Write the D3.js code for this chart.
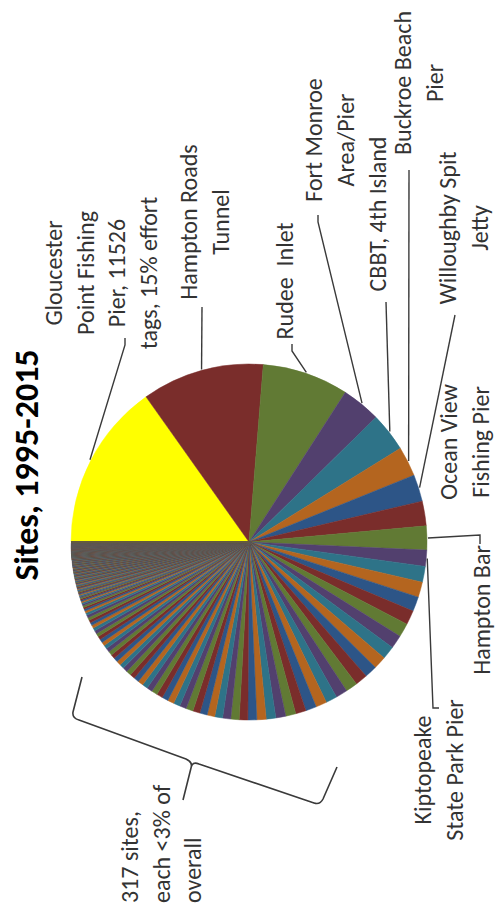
<!DOCTYPE html>
<html><head><meta charset="utf-8">
<script src="https://cdn.jsdelivr.net/npm/d3@7"></script>
<style>
body{margin:0;background:#fff}
svg{display:block}
text{white-space:pre}
</style>
</head><body>
<script>
// ---------- data ----------
const chartTitle = "Sites, 1995-2015";
const namedSites = ["Gloucester Point Fishing Pier","Hampton Roads Tunnel","Rudee Inlet","Fort Monroe Area/Pier","CBBT, 4th Island","Buckroe Beach Pier","Willoughby Spit Jetty","Ocean View Fishing Pier","Hampton Bar","Kiptopeake State Park Pier"];
const namedTags = [11526, 8424, 5939, 2690, 2680, 2050, 1850, 1700, 1650, 1116];
// 317 remaining sites, each <3% of overall (estimated tag counts)
const otherTags = [
1090,1050,1010,980,950,920,900,880,860,840,820,800,780,760,740,720,700,680,660,640,
610,592,575,558,542,526,511,496,482,468,454,441,428,415,403,391,379,368,357,346,
335,325,315,305,296,287,278,269,261,253,245,237,229,222,215,208,201,194,187,180,
165,150,138,128,119,111,104,98,93,88,84,80,77,74,71,68,66,64,62,60,
58,57,55,54,52,51,50,49,48,47,46,45,44,43,42,41,40,39,38,37,
36,35,35,34,34,33,33,32,32,31,31,31,30,30,30,30,30,30,30,30,
29,28,27,27,26,25,25,24,23,23,22,22,21,21,20,20,19,19,18,18,18,17,17,17,16,16,16,15,15,15,14,14,14,14,13,13,13,13,12,12,
12,12,12,12,12,12,12,12,
11,11,11,11,11,11,11,11,11,
10,10,10,10,10,10,10,10,10,10,
9,9,9,9,9,9,9,9,9,9,9,
8,8,8,8,8,8,8,8,8,8,8,8,
7,7,7,7,7,7,7,7,7,7,7,7,7,
6,6,6,6,6,6,6,6,6,6,6,6,6,6,
5,5,5,5,5,5,5,5,5,5,5,5,5,5,5,
4,4,4,4,4,4,4,4,4,4,4,4,4,4,4,4,
3,3,3,3,3,3,3,3,3,3,3,3,3,3,3,3,3,
2,2,2,2,2,2,2,2,2,2,2,2,2,2,2,2,
1,1,1,1,1,1,1,1,1,1,1,1,1,1,1,1
];
const firstColor = "#FFFF00";
const cycleColors = ["#7A2D2B","#617A34","#52406E","#2E7388","#B4651F","#2D5587"];
const namedLabelLines = [
  ["Gloucester","Point Fishing","Pier, 11526","tags, 15% effort"],
  ["Hampton Roads","Tunnel"],
  ["Rudee  Inlet"],
  ["Fort Monroe","Area/Pier"],
  ["CBBT, 4th Island"],
  ["Buckroe Beach","Pier"],
  ["Willoughby Spit","Jetty"],
  ["Ocean View","Fishing Pier"],
  ["Hampton Bar"],
  ["Kiptopeake","State Park Pier"]
];
const otherLabelLines = ["317 sites,","each <3% of","overall"];

// ---------- layout ----------
const W = 499, H = 907;
const cx = 249, cy = 542, R = 178;
const lineStep = 31.5;
const labelFont = "Carlito, Calibri, Lato, sans-serif";
const labelPos = [
  {x:62,  y:273, lead:[[125,338],[125,345]]},
  {x:197, y:222, lead:[[202,307]]},
  {x:293, y:281, lead:[[292,344],[292,351]]},
  {x:322, y:140, lead:[[318,215],[318,222]]},
  {x:386, y:214, lead:[[386,302]]},
  {x:411, y:83,  lead:[[409,170]]},
  {x:456, y:228, lead:[[455,315]]},
  {x:457, y:442, lead:null},
  {x:490, y:610, lead:[[480,544],[480,535]]},
  {x:431, y:770, lead:[[439,708],[433,708]]}
];

const data = namedSites.map((n,i)=>({name:n, tags:namedTags[i]}))
  .concat(otherTags.map((t,i)=>({name:"site "+(i+1), tags:t})));

const svg = d3.select("body").append("svg").attr("width",W).attr("height",H);

const pie = d3.pie().value(d=>d.tags).sort(null)
  .startAngle(-Math.PI/2).endAngle(1.5*Math.PI);
const arcs = pie(data);
const arc = d3.arc().innerRadius(0).outerRadius(R);
const color = i => i===0 ? firstColor : cycleColors[(i-1)%cycleColors.length];

const gPie = svg.append("g").attr("transform",`translate(${cx},${cy})`);
gPie.selectAll("path").data(arcs).join("path")
  .attr("d",arc)
  .attr("fill",(d,i)=>color(i))
  .attr("stroke",(d,i)=>color(i))
  .attr("stroke-width",0.5);

// title
svg.append("text")
  .attr("transform",`translate(38,465) rotate(-90)`)
  .attr("text-anchor","middle")
  .attr("font-family",labelFont)
  .attr("font-weight","bold")
  .attr("font-size",34)
  .attr("fill","#000")
  .text(chartTitle);

// leader lines
const line = d3.line();
labelPos.forEach((p,i)=>{
  if(!p.lead) return;
  const a = arcs[i];
  const mid = (a.startAngle+a.endAngle)/2;
  const end = [cx + (R+1)*Math.sin(mid), cy - (R+1)*Math.cos(mid)];
  svg.append("path")
    .attr("d", line(p.lead.concat([end])))
    .attr("fill","none")
    .attr("stroke","#3a3a3a")
    .attr("stroke-width",1.4);
});

// labels
function drawLabel(lines,x,y,anchor){
  const t = svg.append("text")
    .attr("transform",`translate(${x},${y}) rotate(-90)`)
    .attr("text-anchor",anchor)
    .attr("font-family",labelFont)
    .attr("font-size",24)
    .attr("fill","#333");
  lines.forEach((l,k)=>{
    t.append("tspan").attr("x",0).attr("y",k*lineStep).text(l);
  });
}
namedLabelLines.forEach((lines,i)=>drawLabel(lines,labelPos[i].x,labelPos[i].y,"middle"));
drawLabel(otherLabelLines,138,903,"start");

// brace for the small sites
svg.append("path")
  .attr("d","M82,677 L73,712 Q72,718 79,720 L186,759 Q193,762 191,768 L183,800 M191,768 Q192,761 199,764 L314,803 Q320,805 323,799 L337,767")
  .attr("fill","none")
  .attr("stroke","#3a3a3a")
  .attr("stroke-width",1.6)
  .attr("stroke-linejoin","round");
</script>
</body></html>
